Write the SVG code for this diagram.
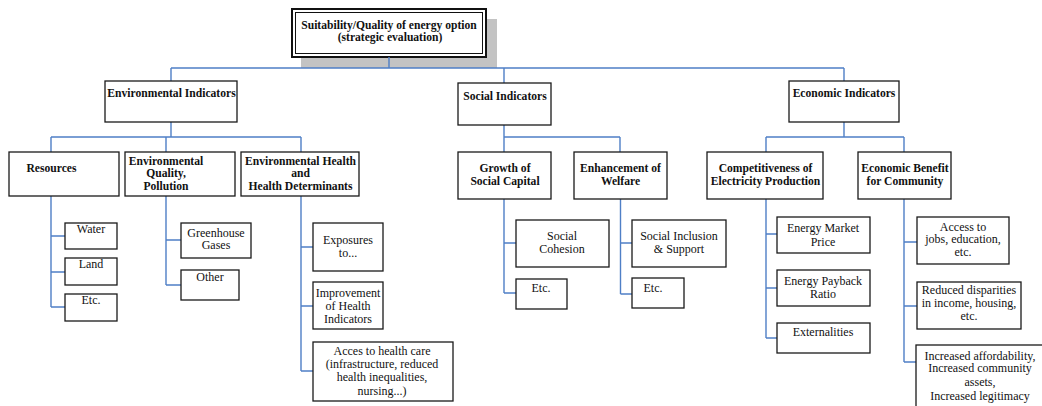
<svg xmlns="http://www.w3.org/2000/svg" width="1042" height="406" viewBox="0 0 1042 406">
<style>
.bg{fill:#ffffff}
.box{fill:#ffffff;stroke:#1a1a1a;stroke-width:1.3}
.shadow{fill:#c3c3c3}
.conn{fill:none;stroke:#4f7fc6;stroke-width:1.4}
text{font-family:"Liberation Serif","Times New Roman",serif;fill:#111;text-anchor:middle}
.h{font-size:11.6px;font-weight:bold}
.l{font-size:12px}
</style>
<rect class="bg" x="0" y="0" width="1042" height="406"/>
<g id="root">
<rect class="shadow" x="301" y="19" width="196" height="49"/>
<rect x="292" y="9" width="194" height="48" fill="#fff" stroke="#111" stroke-width="2"/>
<rect x="295.5" y="12.5" width="187" height="41" fill="none" stroke="#111" stroke-width="1"/>
<text class="h" x="389" y="29">Suitability/Quality of energy option</text>
<text class="h" x="390" y="41">(strategic evaluation)</text>
</g>
<g id="connectors">
<path class="conn" d="M389 57V68M171 68H844M171 68V81M504 68V83M844 68V81"/>
<path class="conn" d="M171 122V137M51 137H301M51 137V152M166 137V152M301 137V152"/>
<path class="conn" d="M504 125V152M504 137H620M620 137V152"/>
<path class="conn" d="M844 122V137M766 137H904M766 137V152M904 137V152"/>
<path class="conn" d="M51 196V307M51 236H65M51 272H65M51 307H65"/>
<path class="conn" d="M166 196V285M166 240H181M166 285H181"/>
<path class="conn" d="M301 196V371M301 247H313M301 306H313M301 371H313"/>
<path class="conn" d="M504 199V293M504 243H516M504 293H516"/>
<path class="conn" d="M620.5 199V294M620.5 243H632M620.5 294H632"/>
<path class="conn" d="M766 199V338M766 234H777M766 288H777M766 338H777"/>
<path class="conn" d="M904 199V362M904 242H917M904 306H917M904 362H916"/>
</g>
<g id="env-ind"><rect class="box" x="105" y="81" width="132" height="41"/><text class="h" x="171.5" y="97">Environmental Indicators</text></g>
<g id="soc-ind"><rect class="box" x="458" y="83" width="93" height="42"/><text class="h" x="505" y="100">Social Indicators</text></g>
<g id="eco-ind"><rect class="box" x="789" y="81" width="110" height="41"/><text class="h" x="844" y="97">Economic Indicators</text></g>

<g id="resources"><rect class="box" x="9" y="152" width="110" height="44"/><text class="h" x="51.5" y="172">Resources</text></g>
<g id="env-quality"><rect class="box" x="125" y="152" width="110" height="44"/><text class="h" x="166" y="165">Environmental</text><text class="h" x="166" y="177">Quality,</text><text class="h" x="166" y="190">Pollution</text></g>
<g id="env-health"><rect class="box" x="241" y="152" width="118" height="44"/><text class="h" x="300.5" y="165">Environmental Health</text><text class="h" x="300.5" y="177">and</text><text class="h" x="300.5" y="190">Health Determinants</text></g>
<g id="growth"><rect class="box" x="458" y="152" width="93" height="47"/><text class="h" x="505" y="172">Growth of</text><text class="h" x="505" y="185">Social Capital</text></g>
<g id="welfare"><rect class="box" x="574" y="152" width="93" height="47"/><text class="h" x="620.5" y="172">Enhancement of</text><text class="h" x="620.5" y="185">Welfare</text></g>
<g id="competitiveness"><rect class="box" x="707" y="152" width="116" height="47"/><text class="h" x="765.5" y="172">Competitiveness of</text><text class="h" x="765.5" y="185">Electricity Production</text></g>
<g id="eco-benefit"><rect class="box" x="858" y="152" width="93" height="47"/><text class="h" x="905" y="172">Economic Benefit</text><text class="h" x="905" y="185">for Community</text></g>

<g id="water"><rect class="box" x="65" y="223" width="52" height="26"/><text class="l" x="91" y="233">Water</text></g>
<g id="land"><rect class="box" x="65" y="258" width="52" height="27"/><text class="l" x="91" y="268">Land</text></g>
<g id="etc-res"><rect class="box" x="65" y="294" width="52" height="27"/><text class="l" x="91" y="304">Etc.</text></g>
<g id="ghg"><rect class="box" x="181" y="223" width="70" height="35"/><text class="l" x="216" y="237">Greenhouse</text><text class="l" x="216" y="249">Gases</text></g>
<g id="other"><rect class="box" x="181" y="270" width="58" height="30"/><text class="l" x="210" y="281">Other</text></g>
<g id="exposures"><rect class="box" x="313" y="223" width="70" height="48"/><text class="l" x="348" y="244">Exposures</text><text class="l" x="348" y="257">to...</text></g>
<g id="improvement"><rect class="box" x="313" y="282" width="70" height="47"/><text class="l" x="348" y="297">Improvement</text><text class="l" x="348" y="310">of Health</text><text class="l" x="348" y="323">Indicators</text></g>
<g id="acces"><rect class="box" x="313" y="342" width="140" height="59"/><text class="l" x="382" y="355">Acces to health care</text><text class="l" x="382" y="368">(infrastructure, reduced</text><text class="l" x="382" y="381">health inequalities,</text><text class="l" x="382" y="395">nursing...)</text></g>
<g id="cohesion"><rect class="box" x="516" y="220" width="93" height="47"/><text class="l" x="562" y="240">Social</text><text class="l" x="562" y="253">Cohesion</text></g>
<g id="etc-growth"><rect class="box" x="516" y="279" width="51" height="30"/><text class="l" x="541" y="292">Etc.</text></g>
<g id="inclusion"><rect class="box" x="632" y="220" width="94" height="47"/><text class="l" x="679" y="240">Social Inclusion</text><text class="l" x="679" y="253">&amp; Support</text></g>
<g id="etc-welfare"><rect class="box" x="632" y="278" width="52" height="30"/><text class="l" x="653" y="292">Etc.</text></g>
<g id="market"><rect class="box" x="777" y="217" width="93" height="36"/><text class="l" x="823" y="232">Energy Market</text><text class="l" x="823" y="246">Price</text></g>
<g id="payback"><rect class="box" x="777" y="270" width="93" height="36"/><text class="l" x="823" y="285">Energy Payback</text><text class="l" x="823" y="298">Ratio</text></g>
<g id="externalities"><rect class="box" x="777" y="323" width="93" height="30"/><text class="l" x="823" y="336">Externalities</text></g>
<g id="access"><rect class="box" x="917" y="217" width="92" height="47"/><text class="l" x="963" y="231">Access to</text><text class="l" x="963" y="243">jobs, education,</text><text class="l" x="963" y="256">etc.</text></g>
<g id="reduced"><rect class="box" x="917" y="282" width="104" height="47"/><text class="l" x="969" y="294">Reduced disparities</text><text class="l" x="969" y="307">in income, housing,</text><text class="l" x="969" y="320">etc.</text></g>
<g id="increased"><rect class="box" x="916" y="345" width="140" height="80"/><text class="l" x="980" y="360">Increased affordability,</text><text class="l" x="980" y="372">Increased community</text><text class="l" x="980" y="386">assets,</text><text class="l" x="980" y="400">Increased legitimacy</text></g>
</svg>
